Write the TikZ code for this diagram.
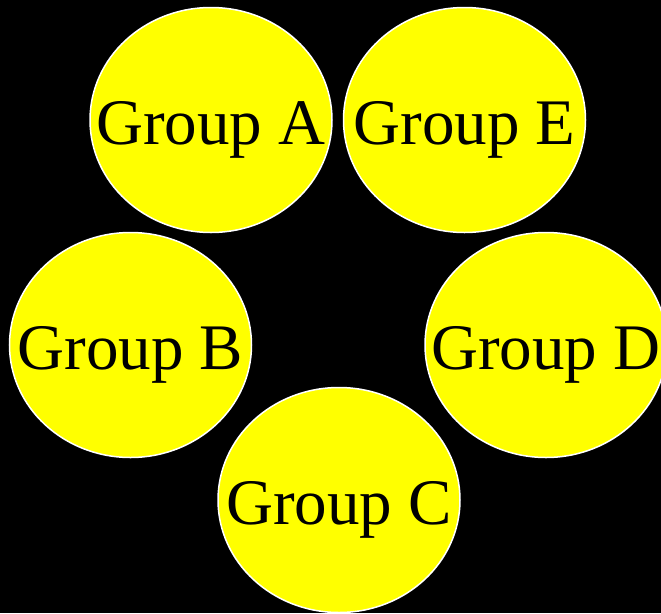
\documentclass[tikz,border=0pt]{standalone}
\usepackage{fontspec}
\setmainfont{Liberation Serif}
\usetikzlibrary{shapes.geometric}
\definecolor{yel}{RGB}{255,255,0}
\begin{document}
\begin{tikzpicture}[x=1pt,y=-1pt,
  grp/.style={ellipse, draw=white, line width=1.5pt, fill=yel, minimum width=242pt, minimum height=225pt, inner sep=0pt},
  lbl/.style={inner sep=0pt, text=black, font=\fontsize{65}{65}\selectfont, text depth=0pt, yshift=-2.5pt}]
\fill[black] (0,0) rectangle (661,613);
\useasboundingbox (0,0) rectangle (661,613);
\node[grp] (a) at (211,120) {};
\node[grp] (e) at (464.5,120) {};
\node[grp] (b) at (130.5,345) {};
\node[grp] (d) at (546,345) {};
\node[grp] (c) at (339,500) {};
\node[lbl] (ta) at (a.center) {Group A};
\node[lbl] (te) at (e.center) {Group E};
\node[lbl] (tb) at (b.center) {Group B};
\node[lbl] (td) at (d.center) {Group D};
\node[lbl] (tc) at (c.center) {Group C};
\end{tikzpicture}
\end{document}
